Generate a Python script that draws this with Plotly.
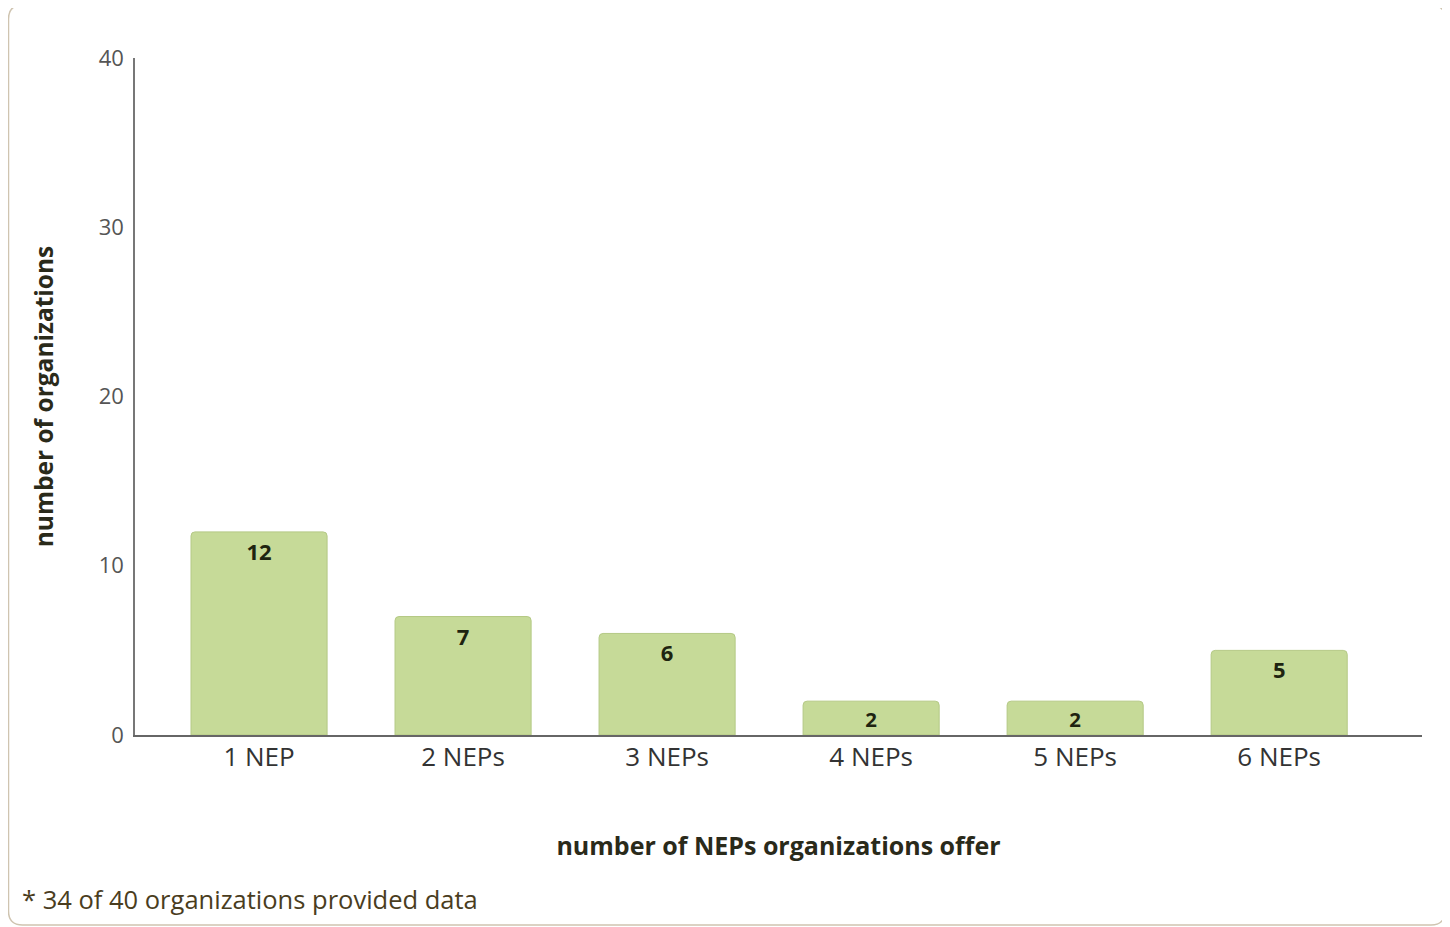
import plotly.graph_objects as go

categories = ["1 NEP", "2 NEPs", "3 NEPs", "4 NEPs", "5 NEPs", "6 NEPs"]
values = [12, 7, 6, 2, 2, 5]
y_ticks = [0, 10, 20, 30, 40]

OFF = 8  # page body margin
W, H = 1450 - OFF, 927 - OFF
L, R, T, B = 135 - OFF, 28, 58 - OFF, 192
pw, ph = W - L - R, H - T - B

def px(x):
    return (x - OFF - L) / pw

def py(y):
    return (H - B - (y - OFF)) / ph

FONT = "Open Sans"

fig = go.Figure()
fig.add_trace(go.Bar(
    x=list(range(len(categories))), y=values,
    width=0.667,
    marker=dict(color="#c6da98", line=dict(color="#b4c985", width=1), cornerradius=4),
    text=[str(v) for v in values], textposition="inside", insidetextanchor="end",
    textangle=0, constraintext="none",
    textfont=dict(family=FONT, size=22, color="#1e2410", weight="bold"),
    cliponaxis=False,
))

# rounded border path
x0, x1, y0, y1, r = px(8.5), px(1445), py(925), py(5), 14
rx, ry = r / pw, r / ph
path = (f"M {x0+rx},{y1} L {x1-rx},{y1} Q {x1},{y1} {x1},{y1-ry} "
        f"L {x1},{y0+ry} Q {x1},{y0} {x1-rx},{y0} L {x0+rx},{y0} "
        f"Q {x0},{y0} {x0},{y0+ry} L {x0},{y1-ry} Q {x0},{y1} {x0+rx},{y1} Z")
fig.add_shape(type="path", xref="paper", yref="paper", path=path,
              line=dict(color="#cfc4b0", width=1.5), layer="below")

fig.add_annotation(text="* 34 of 40 organizations provided data", xref="paper", yref="paper",
                   x=px(20), y=py(899), xanchor="left", yanchor="middle", showarrow=False,
                   font=dict(family=FONT, size=25.5, color="#4a3d1e"))

fig.update_layout(
    width=W, height=H,
    margin=dict(l=L, r=R, t=T, b=B),
    paper_bgcolor="white", plot_bgcolor="white",
    showlegend=False,
    xaxis=dict(
        range=[-0.608, 5.70], tickmode="array",
        tickvals=list(range(len(categories))), ticktext=categories,
        showgrid=False, zeroline=False, showline=True, linecolor="#666666", linewidth=1.5,
        ticks="", tickfont=dict(family=FONT, size=26, color="#333333"),
        ticklabelstandoff=-2,
        title=dict(text="number of NEPs organizations offer", standoff=65,
                   font=dict(family=FONT, size=25, color="#2a2a1a", weight="bold")),
    ),
    yaxis=dict(
        range=[0, 40], tickvals=y_ticks, showgrid=False, zeroline=False,
        showline=True, linecolor="#777777", linewidth=1.5, ticks="",
        tickfont=dict(family=FONT, size=22, color="#555555"), ticklabelstandoff=5,
        title=dict(text="number of organizations", standoff=38,
                   font=dict(family=FONT, size=24.5, color="#2a2a1a", weight="bold")),
    ),
)

fig.write_html("out.html")
